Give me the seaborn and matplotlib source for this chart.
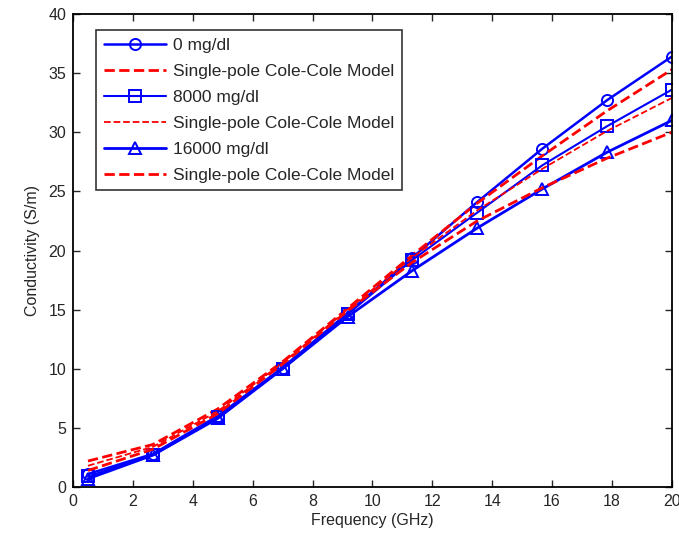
import numpy as np
import pandas as pd
import seaborn as sns
import matplotlib
matplotlib.use("Agg")
import matplotlib.pyplot as plt

##############################################################################
# Data
##############################################################################
freq = [0.5, 2.67, 4.83, 7.0, 9.17, 11.33, 13.5, 15.67, 17.83, 20.0]
meas0 = [1.1, 2.8, 6.0, 10.1, 14.7, 19.4, 24.1, 28.6, 32.7, 36.4]
meas8000 = [0.9, 2.7, 5.9, 10.0, 14.6, 19.2, 23.2, 27.2, 30.5, 33.6]
meas16000 = [0.7, 2.7, 5.8, 10.0, 14.4, 18.3, 21.9, 25.2, 28.3, 31.0]
model0 = [2.2, 3.6, 6.6, 10.6, 15.1, 19.6, 24.0, 28.0, 31.8, 35.3]
model8000 = [1.8, 3.4, 6.4, 10.5, 15.0, 19.4, 23.4, 26.9, 30.1, 32.9]
model16000 = [1.4, 3.2, 6.2, 10.4, 14.9, 19.0, 22.5, 25.3, 27.8, 30.0]
labels = ["0 mg/dl", "Single-pole Cole-Cole Model",
          "8000 mg/dl", "Single-pole Cole-Cole Model",
          "16000 mg/dl", "Single-pole Cole-Cole Model"]

##############################################################################
# Plotting
##############################################################################
sns.set_style("ticks")
plt.rcParams['font.family'] = ['Liberation Sans', 'DejaVu Sans']

fig = plt.figure(figsize=(6.79, 5.37), dpi=100)
ax = fig.add_axes([0.1075, 0.093, 0.882, 0.881])

BLUE, RED = "#0000ff", "#ff0000"
series = [
    (meas0, BLUE, "-", "o", 1.8),
    (model0, RED, "--", None, 2.0),
    (meas8000, BLUE, "-", "s", 1.5),
    (model8000, RED, "--", None, 1.3),
    (meas16000, BLUE, "-", "^", 2.0),
    (model16000, RED, "--", None, 2.0),
]
for (vals, col, ls, mk, lw), lab in zip(series, labels):
    df = pd.DataFrame({"f": freq, "c": vals})
    kw = dict(marker=mk, markersize=8, markerfacecolor="none",
              markeredgecolor=col, markeredgewidth=1.4) if mk else {}
    sns.lineplot(data=df, x="f", y="c", ax=ax, color=col, linestyle=ls,
                 linewidth=lw, label=lab, **kw)

ax.set_xlim(0, 20)
ax.set_ylim(0, 40)
ax.set_xticks(np.arange(0, 21, 2))
ax.set_yticks(np.arange(0, 41, 5))
ax.tick_params(direction="in", top=True, right=True, labelsize=11.5,
               length=5, width=1, pad=5)
for sp in ax.spines.values():
    sp.set_linewidth(1.3)
    sp.set_color("black")
ax.set_xlabel("Frequency (GHz)", fontsize=11.5, labelpad=3)
ax.set_ylabel("Conductivity (S/m)", fontsize=11.5, labelpad=6)

leg = ax.legend(loc="upper left", bbox_to_anchor=(0.038, 0.966),
                borderaxespad=0, fontsize=12.5, frameon=True, fancybox=False,
                edgecolor="black", handlelength=3.6, borderpad=0.45,
                labelspacing=0.62, handletextpad=0.4)
leg.get_frame().set_linewidth(1.2)

fig.savefig("out.png", dpi=100)
plt.close(fig)
